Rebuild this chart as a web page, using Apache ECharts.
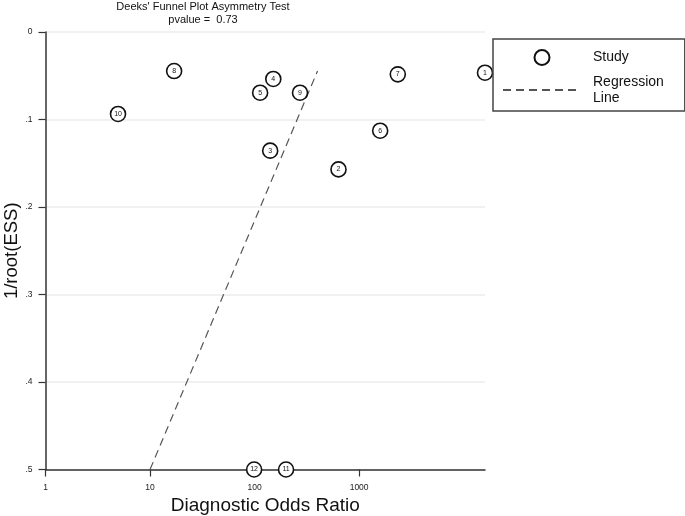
<!DOCTYPE html>
<html>
<head>
<meta charset="utf-8">
<script src="https://cdn.jsdelivr.net/npm/echarts@6/dist/echarts.min.js"></script>
<style>
html,body{margin:0;padding:0;background:#fff;}
#chart{width:685px;height:516px;}
</style>
</head>
<body>
<div id="chart"></div>
<script>
// Study labels, diagnostic odds ratios and 1/root(ESS)
var studyLabels = ['1', '2', '3', '4', '5', '6', '7', '8', '9', '10', '11', '12'];
var studyDOR = [16000, 635, 141, 151, 113, 1590, 2344, 17, 272, 4.94, 200, 99];
var studyInvRootESS = [0.0465, 0.157, 0.1356, 0.0537, 0.0694, 0.1128, 0.0484, 0.0446, 0.0694, 0.0937, 0.5, 0.5];

// Regression line end points
var regDOR = [10, 400];
var regInvRootESS = [0.5, 0.0446];

// Tick labels
var xTickDOR = [1, 10, 100, 1000];
var yTicks = [0, 0.1, 0.2, 0.3, 0.4, 0.5];

var FONT = "'Liberation Sans', Arial, Helvetica, sans-serif";

var scatterData = studyLabels.map(function (lab, i) {
  return [Math.log10(studyDOR[i]), studyInvRootESS[i], lab];
});
var regData = regDOR.map(function (d, i) {
  return [Math.log10(d), regInvRootESS[i]];
});
var xTickPos = xTickDOR.map(function (v) { return Math.log10(v); });

var chart = echarts.init(document.getElementById('chart'), null, {renderer: 'canvas'});
chart.setOption({
  backgroundColor: '#fff',
  animation: false,
  title: {
    text: "Deeks' Funnel Plot Asymmetry Test\npvalue =  0.73",
    left: 203,
    top: 1,
    padding: 0,
    textAlign: 'center',
    textStyle: {fontFamily: FONT, fontSize: 11, fontWeight: 'normal', color: '#111', lineHeight: 12.5}
  },
  legend: {
    orient: 'vertical',
    left: 493,
    top: 39,
    padding: [10, 21, 5, 9],
    itemGap: 8,
    itemWidth: 78,
    itemHeight: 15,
    borderColor: '#444',
    borderWidth: 1.5,
    backgroundColor: '#fff',
    selectedMode: false,
    data: [
      {name: 'Study'},
      {name: 'Regression Line', itemStyle: {color: 'rgba(0,0,0,0)', borderColor: 'rgba(0,0,0,0)', borderWidth: 0}}
    ],
    formatter: function (name) { return name === 'Regression Line' ? 'Regression\nLine' : name; },
    textStyle: {fontFamily: FONT, fontSize: 14, lineHeight: 16, color: '#111', padding: [0, 0, 0, 7]}
  },
  grid: {left: 45.5, right: 200, top: 32, bottom: 46.5, containLabel: false, outerBoundsMode: 'none'},
  xAxis: {
    type: 'value',
    min: 0,
    max: Math.log10(16000),
    interval: 1,
    name: 'Diagnostic Odds Ratio',
    nameLocation: 'middle',
    nameGap: 27,
    nameMoveOverlap: false,
    nameTextStyle: {fontFamily: FONT, fontSize: 19, color: '#111'},
    axisLine: {onZero: false, lineStyle: {color: '#333', width: 1.5}},
    axisTick: {show: true, length: 7, customValues: xTickPos, lineStyle: {color: '#333', width: 1.2}},
    axisLabel: {
      customValues: xTickPos,
      margin: 14,
      fontFamily: FONT, fontSize: 8.5, color: '#222',
      formatter: function (v) { return String(Math.round(Math.pow(10, v))); }
    },
    splitLine: {show: false}
  },
  yAxis: {
    type: 'value',
    inverse: true,
    min: 0,
    max: 0.5,
    interval: 0.1,
    name: '1/root(ESS)',
    nameLocation: 'middle',
    nameGap: 24,
    nameMoveOverlap: false,
    nameTextStyle: {fontFamily: FONT, fontSize: 18.5, color: '#111'},
    axisLine: {show: true, onZero: false, lineStyle: {color: '#333', width: 1.5}},
    axisTick: {show: true, length: 7, lineStyle: {color: '#333', width: 1.2}},
    axisLabel: {
      margin: 13,
      fontFamily: FONT, fontSize: 8.5, color: '#222',
      formatter: function (v) { var t = Math.round(v * 10); return t === 0 ? '0' : '.' + t; }
    },
    splitLine: {show: true, lineStyle: {color: '#ececec', width: 1.5}}
  },
  series: [
    {
      name: 'Regression Line',
      type: 'line',
      data: regData,
      symbol: 'none',
      z: 2,
      lineStyle: {color: '#555', width: 1.2, type: [8, 5]},
      itemStyle: {color: '#555'}
    },
    {
      name: 'Study',
      type: 'scatter',
      data: scatterData,
      symbol: 'circle',
      symbolSize: 15,
      z: 3,
      itemStyle: {color: '#fff', borderColor: '#111', borderWidth: 1.6, opacity: 1},
      label: {
        show: true,
        position: 'inside',
        fontFamily: FONT,
        fontSize: 7,
        color: '#111',
        formatter: function (p) { return p.data[2]; }
      }
    }
  ]
});
</script>
</body>
</html>
